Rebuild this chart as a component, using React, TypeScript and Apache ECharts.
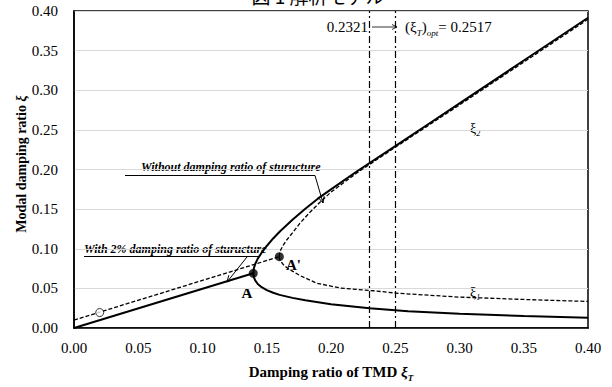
import React, { useEffect, useRef } from "react";
import * as echarts from "echarts";

// ---- Data ----
const xTicks = [0, 0.05, 0.1, 0.15, 0.2, 0.25, 0.3, 0.35, 0.4];

// Without structural damping (solid)
const solidLinX = [0, 0.1395];
const solidLinY = [0, 0.069];
const solidUpX = [0.1395, 0.14, 0.141, 0.143, 0.146, 0.15, 0.155, 0.16, 0.17, 0.18, 0.19, 0.2, 0.22, 0.25, 0.275, 0.3, 0.35, 0.4];
const solidUpY = [0.069, 0.0755, 0.0805, 0.0875, 0.095, 0.1035, 0.113, 0.1215, 0.1365, 0.1505, 0.1635, 0.175, 0.1975, 0.2295, 0.2565, 0.2835, 0.3375, 0.3915];
const solidLoX = [0.1395, 0.14, 0.141, 0.143, 0.146, 0.15, 0.155, 0.16, 0.17, 0.18, 0.2, 0.23, 0.26, 0.3, 0.35, 0.4];
const solidLoY = [0.069, 0.064, 0.06, 0.0555, 0.0515, 0.0478, 0.0445, 0.0418, 0.038, 0.035, 0.03, 0.025, 0.021, 0.018, 0.015, 0.013];

// With 2% structural damping (dashed)
const dashLinX = [0, 0.1598];
const dashLinY = [0.01, 0.09];
const dashUpX = [0.1598, 0.16, 0.161, 0.163, 0.1655, 0.17, 0.176, 0.183, 0.191, 0.2, 0.22, 0.25, 0.3, 0.35, 0.4];
const dashUpY = [0.09, 0.094, 0.099, 0.105, 0.111, 0.12, 0.1325, 0.145, 0.158, 0.1715, 0.1955, 0.228, 0.2815, 0.3355, 0.3895];
const dashLoX = [0.1598, 0.16, 0.161, 0.163, 0.1655, 0.17, 0.176, 0.189, 0.207, 0.233, 0.252, 0.3, 0.35, 0.4];
const dashLoY = [0.09, 0.0875, 0.0838, 0.0798, 0.0764, 0.0718, 0.066, 0.0565, 0.0505, 0.047, 0.0438, 0.039, 0.036, 0.0335];

// Marked points
const pointAX = [0.1395, 0.1598];
const pointAY = [0.069, 0.09];
const openPointX = [0.02];
const openPointY = [0.0195];

// Vertical reference lines
const optLines = [0.2321, 0.2517];

const zip = (xs: number[], ys: number[]) => xs.map((x, i) => [x, ys[i]]);

const SERIF = "'Liberation Serif', 'Times New Roman', serif";

export default function App() {
  const ref = useRef<HTMLDivElement>(null);
  useEffect(() => {
    document.body.style.margin = "0";
    const chart = echarts.init(ref.current!, null, { renderer: "svg" });
    const solid = { color: "#000", width: 2 };
    const dashed = { color: "#000", width: 1.3, type: [4, 2] as any };
    const subStyle = (size: number) => ({
      fontFamily: SERIF,
      fontSize: size,
      fontStyle: "italic",
      lineHeight: 9,
      verticalAlign: "bottom",
      fill: "#000",
      color: "#000",
    });
    chart.setOption({
      animation: false,
      backgroundColor: "#fff",
      grid: {
        left: 74,
        right: 24,
        top: 11,
        bottom: 46,
        show: true,
        borderColor: "#000",
        borderWidth: 1.5,
        containLabel: false,
      },
      xAxis: {
        type: "value",
        min: 0,
        max: 0.4,
        interval: 0.05,
        axisLine: { show: true, lineStyle: { color: "#000", width: 1.5 } },
        axisTick: { show: false },
        splitLine: { show: false },
        axisLabel: {
          color: "#000",
          fontFamily: SERIF,
          fontSize: 15,
          margin: 12,
          formatter: (v: number) => v.toFixed(2),
        },
        name: "{b|Damping ratio of TMD }{xi|ξ}{sub|T}",
        nameLocation: "middle",
        nameGap: 34,
        nameTextStyle: {
          fontFamily: SERIF,
          fontSize: 15,
          fontWeight: "bold",
          color: "#000",
          rich: {
            b: { fontFamily: SERIF, fontSize: 15, fontWeight: "bold", color: "#000", lineHeight: 20 },
            xi: { fontFamily: SERIF, fontSize: 15, fontWeight: "bold", fontStyle: "italic", color: "#000", lineHeight: 20 },
            sub: { fontFamily: SERIF, fontSize: 9, fontWeight: "bold", fontStyle: "italic", color: "#000", lineHeight: 10, verticalAlign: "bottom" },
          },
        },
      },
      yAxis: {
        type: "value",
        min: 0,
        max: 0.4,
        interval: 0.05,
        axisLine: { show: true, lineStyle: { color: "#000", width: 1.5 } },
        axisTick: { show: false },
        splitLine: { show: true, lineStyle: { color: "#d9d9d9", width: 1 } },
        axisLabel: {
          color: "#000",
          fontFamily: SERIF,
          fontSize: 15,
          margin: 16,
          formatter: (v: number) => v.toFixed(2),
        },
      },
      series: [
        { type: "line", data: zip(solidLinX, solidLinY), showSymbol: false, lineStyle: solid, silent: true },
        { type: "line", data: zip(solidUpX, solidUpY), showSymbol: false, lineStyle: solid, silent: true },
        { type: "line", data: zip(solidLoX, solidLoY), showSymbol: false, lineStyle: solid, silent: true },
        { type: "line", data: zip(dashLinX, dashLinY), showSymbol: false, lineStyle: dashed, silent: true },
        { type: "line", data: zip(dashUpX, dashUpY), showSymbol: false, lineStyle: dashed, silent: true },
        {
          type: "line",
          data: zip(dashLoX, dashLoY),
          showSymbol: false,
          lineStyle: dashed,
          silent: true,
          markLine: {
            silent: true,
            symbol: "none",
            label: { show: false },
            lineStyle: { color: "#000", width: 1.2, type: [7, 3, 2, 3] },
            data: optLines.map((v) => ({ xAxis: v })),
          },
        },
        {
          type: "scatter",
          data: zip(pointAX, pointAY),
          symbol: "circle",
          symbolSize: 9,
          itemStyle: { color: "#000" },
          z: 5,
        },
        {
          type: "scatter",
          data: zip(openPointX, openPointY),
          symbol: "circle",
          symbolSize: 8,
          itemStyle: { color: "#fff", borderColor: "#000", borderWidth: 1 },
          z: 5,
        },
      ],
      graphic: [
        // cut-off caption at the very top
        {
          type: "text",
          x: 318,
          y: 5,
          style: {
            text: "図 1 解析モデル",
            font: "19px 'Noto Sans CJK JP'",
            fill: "#000",
            align: "center",
            verticalAlign: "bottom",
          },
        },
        // y axis name
        {
          type: "text",
          x: 21,
          y: 164,
          rotation: Math.PI / 2,
          style: {
            text: "{b|Modal damping ratio }{xi|ξ}",
            align: "center",
            verticalAlign: "middle",
            rich: {
              b: { fontFamily: SERIF, fontSize: 14, fontWeight: "bold", fill: "#000" },
              xi: { fontFamily: SERIF, fontSize: 14, fontWeight: "bold", fontStyle: "italic", fill: "#000" },
            },
          },
        },
        // top annotation
        {
          type: "text",
          x: 368,
          y: 27,
          style: { text: "0.2321", font: `15px ${SERIF}`, fill: "#000", align: "right", verticalAlign: "middle" },
        },
        { type: "line", shape: { x1: 372, y1: 27, x2: 397, y2: 27 }, style: { stroke: "#000", lineWidth: 0.8 } },
        { type: "polyline", shape: { points: [[392, 24.5], [397, 27], [392, 29.5]] }, style: { stroke: "#000", lineWidth: 0.8, fill: "none" } },
        {
          type: "text",
          x: 405,
          y: 27,
          style: {
            text: "{n|(ξ}{s|T}{n|)}{s|opt}{n|= 0.2517}",
            verticalAlign: "middle",
            align: "left",
            rich: {
              n: { fontFamily: SERIF, fontSize: 15, lineHeight: 20, fill: "#000" },
              s: subStyle(9),
            },
          },
        },
        // "Without damping ratio of sturucture"
        {
          type: "text",
          x: 141,
          y: 173,
          style: {
            text: "Without damping ratio of sturucture",
            font: `italic bold 12px ${SERIF}`,
            fill: "#000",
            align: "left",
            verticalAlign: "bottom",
          },
        },
        { type: "line", shape: { x1: 125, y1: 175.5, x2: 315, y2: 175.5 }, style: { stroke: "#000", lineWidth: 1 } },
        { type: "line", shape: { x1: 315, y1: 175.5, x2: 323, y2: 203 }, style: { stroke: "#000", lineWidth: 1 } },
        { type: "polyline", shape: { points: [[324.1, 196.1], [323, 203], [318.4, 197.7]] }, style: { stroke: "#000", lineWidth: 1, fill: "none" } },
        // "With 2% damping ratio of sturucture"
        {
          type: "text",
          x: 84,
          y: 255,
          style: {
            text: "With 2% damping ratio of sturucture",
            font: `italic bold 12px ${SERIF}`,
            fill: "#000",
            align: "left",
            verticalAlign: "bottom",
          },
        },
        { type: "line", shape: { x1: 84, y1: 256.5, x2: 260, y2: 256.5 }, style: { stroke: "#000", lineWidth: 1 } },
        { type: "line", shape: { x1: 247, y1: 257, x2: 227, y2: 282 }, style: { stroke: "#000", lineWidth: 1 } },
        { type: "polyline", shape: { points: [[233.3, 279], [227, 282], [228.8, 275.2]] }, style: { stroke: "#000", lineWidth: 1, fill: "none" } },
        // point labels
        {
          type: "text",
          x: 247,
          y: 293,
          style: { text: "A", font: `bold 15px ${SERIF}`, fill: "#000", align: "center", verticalAlign: "middle" },
        },
        {
          type: "text",
          x: 286,
          y: 265,
          style: { text: "A'", font: `bold 15px ${SERIF}`, fill: "#000", align: "left", verticalAlign: "middle" },
        },
        // branch labels
        {
          type: "text",
          x: 470,
          y: 128,
          style: {
            text: "{n|ξ}{s|2}",
            verticalAlign: "middle",
            rich: { n: { fontFamily: SERIF, fontSize: 14, lineHeight: 18, fill: "#000" }, s: subStyle(8) },
          },
        },
        {
          type: "text",
          x: 470,
          y: 292,
          style: {
            text: "{n|ξ}{s|1}",
            verticalAlign: "middle",
            rich: { n: { fontFamily: SERIF, fontSize: 14, lineHeight: 18, fill: "#000" }, s: subStyle(8) },
          },
        },
      ],
    });
    return () => chart.dispose();
  }, []);
  return (
    <div
      ref={ref}
      style={{ position: "fixed", left: 0, top: 0, width: 612, height: 387, background: "#fff" }}
    />
  );
}
